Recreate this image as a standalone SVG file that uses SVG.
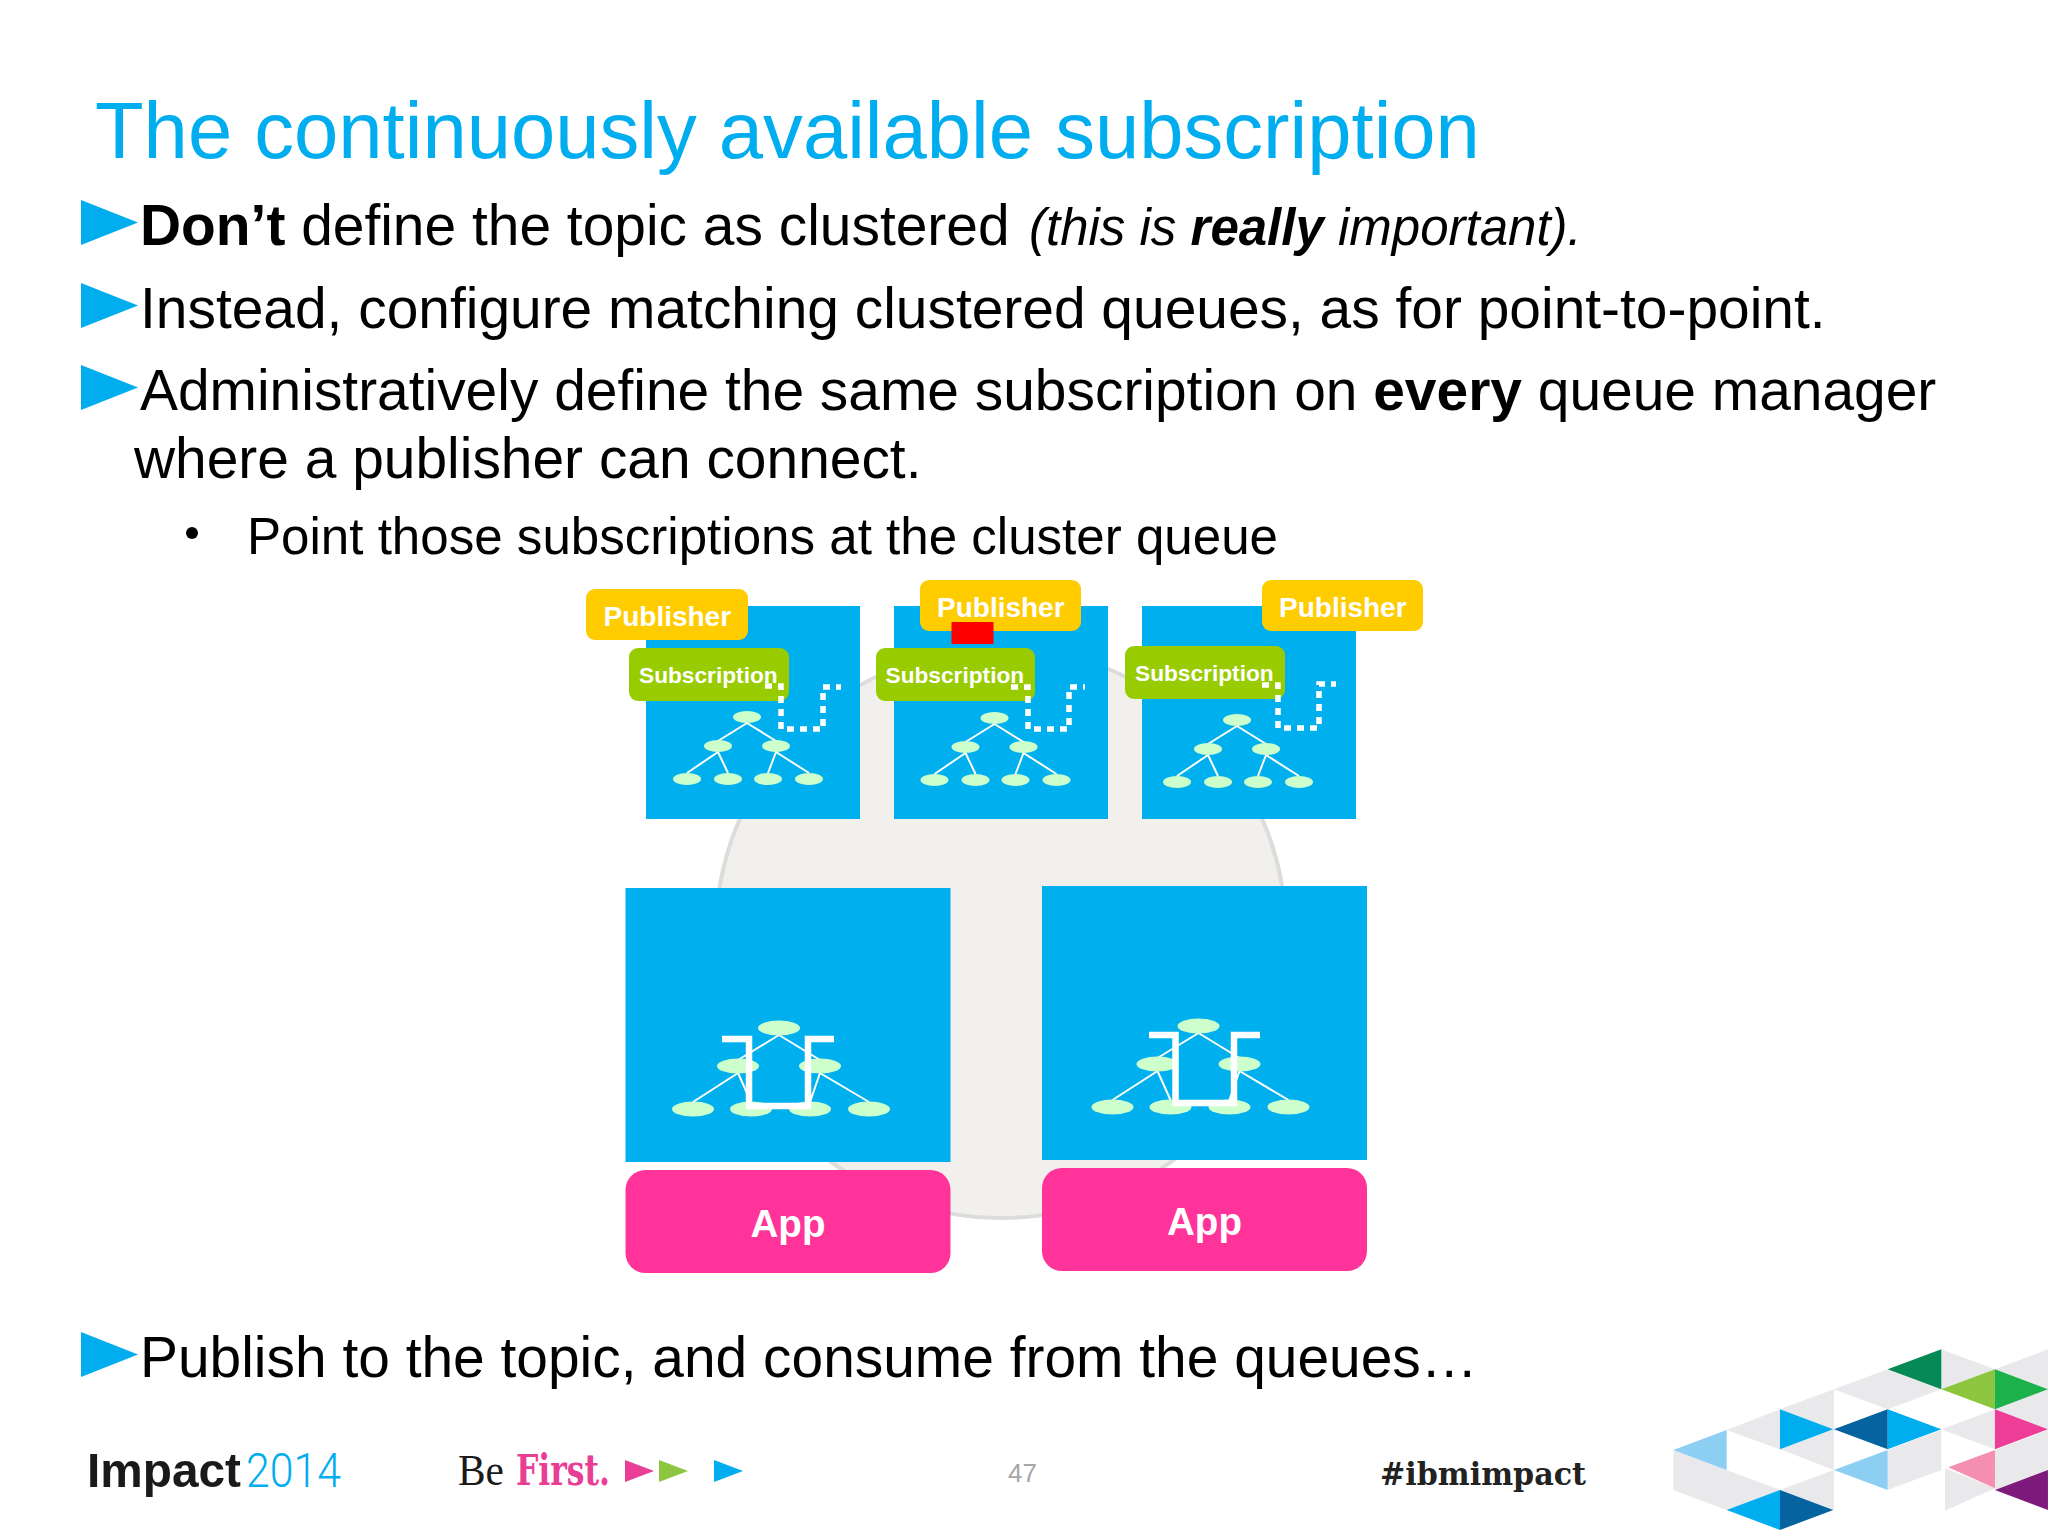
<svg xmlns="http://www.w3.org/2000/svg" width="2048" height="1536" viewBox="0 0 2048 1536">
<style>
text{font-family:"Liberation Sans",Arial,sans-serif}
.title{font-size:79.600px;fill:#00aeef}
.body{font-size:56.900px;fill:#000}
.sub{font-size:51.100px;fill:#000}
.em{font-size:51px;font-style:italic;fill:#000}
.pubt{font-size:28px;font-weight:700;fill:#fff}
.subt{font-size:22.700px;font-weight:700;fill:#fff}
.appt{font-size:38.600px;font-weight:700;fill:#fff;text-anchor:middle}
.qm{fill:#00b0ee}
.pub{fill:#ffcc00}
.sb{fill:#99cc00}
.app{fill:#ff3399}
.leaf{fill:#ccffcc}
.ln{stroke:#fff;stroke-width:2;fill:none}
.dot{stroke:#fff;stroke-width:5.500;fill:none;stroke-dasharray:7 6}
.thick{stroke:#fff;stroke-width:6.500;fill:none}
.bar{fill:#00aeef}
</style>
<defs>
<path id="arrow" d="M0 0L57 22.500L0 45Z"/>
<g id="tree-s">
<path class="ln" d="M0 6L-29 24M0 6L29 24M-29 35L-60 56M-29 35L-19 56M29 35L21 56M29 35L62 56"/>
<ellipse class="leaf" cx="0" cy="0" rx="14" ry="6"/>
<ellipse class="leaf" cx="-29" cy="29" rx="14" ry="6"/>
<ellipse class="leaf" cx="29" cy="29" rx="14" ry="6"/>
<ellipse class="leaf" cx="-60" cy="62" rx="14" ry="6"/>
<ellipse class="leaf" cx="-19" cy="62" rx="14" ry="6"/>
<ellipse class="leaf" cx="21" cy="62" rx="14" ry="6"/>
<ellipse class="leaf" cx="62" cy="62" rx="14" ry="6"/>
</g>
<g id="tree-l">
<path class="ln" d="M0 7L-41 32M0 7L41 32M-41 45L-86 74M-41 45L-28 74M41 45L31 74M41 45L90 74"/>
<ellipse class="leaf" cx="0" cy="0" rx="21" ry="7.500"/>
<ellipse class="leaf" cx="-41" cy="38" rx="21" ry="7.500"/>
<ellipse class="leaf" cx="41" cy="38" rx="21" ry="7.500"/>
<ellipse class="leaf" cx="-86" cy="81" rx="21" ry="7.500"/>
<ellipse class="leaf" cx="-28" cy="81" rx="21" ry="7.500"/>
<ellipse class="leaf" cx="31" cy="81" rx="21" ry="7.500"/>
<ellipse class="leaf" cx="90" cy="81" rx="21" ry="7.500"/>
</g>
</defs>
<rect width="2048" height="1536" fill="#fff"/>
<text class="title" x="95" y="158">The continuously available subscription</text>
<g class="bar">
<use href="#arrow" x="81" y="200"/>
<use href="#arrow" x="81" y="283"/>
<use href="#arrow" x="81" y="365"/>
<use href="#arrow" x="81" y="1332"/>
</g>
<text class="body" x="140" y="245"><tspan font-weight="700">Don’t</tspan> define the topic as clustered</text>
<text class="em" x="1029" y="245">(this is <tspan font-weight="700">really</tspan> important).</text>
<text class="body" x="140" y="328">Instead, configure matching clustered queues, as for point-to-point.</text>
<text class="body" x="140" y="410">Administratively define the same subscription on <tspan font-weight="700">every</tspan> queue manager</text>
<text class="body" x="134" y="478">where a publisher can connect.</text>
<circle cx="192" cy="533" r="6" fill="#000"/>
<text class="sub" x="247" y="554">Point those subscriptions at the cluster queue</text>
<text class="body" x="140" y="1377">Publish to the topic, and consume from the queues…</text>

<circle id="cluster" cx="1001" cy="933" r="285" fill="#f2f0ec" stroke="#dcdcdc" stroke-width="4"/>

<g id="qm1"><rect class="qm" x="646" y="606" width="214" height="213"/><use href="#tree-s" x="747" y="717"/></g>
<g id="qm2"><rect class="qm" x="894" y="606" width="214" height="213"/><use href="#tree-s" x="994.500" y="718"/></g>
<g id="qm3"><rect class="qm" x="1142" y="606" width="214" height="213"/><use href="#tree-s" x="1237" y="720"/></g>
<g id="publisher1"><rect class="pub" x="586" y="589" width="162" height="51" rx="9"/><text class="pubt" x="603.500" y="626">Publisher</text></g>
<g id="publisher2"><rect class="pub" x="920" y="580" width="161" height="51" rx="9"/><text class="pubt" x="937" y="617">Publisher</text></g>
<g id="publisher3"><rect class="pub" x="1262" y="580" width="161" height="51" rx="9"/><text class="pubt" x="1279" y="617">Publisher</text></g>
<rect id="message" x="951.500" y="622" width="42" height="22" fill="#ff0000"/>
<g id="subscription1"><rect class="sb" x="629" y="648" width="160" height="53" rx="9"/><text class="subt" x="639" y="683">Subscription</text></g>
<g id="subscription2"><rect class="sb" x="876" y="648" width="159" height="53" rx="9"/><text class="subt" x="885.500" y="683">Subscription</text></g>
<g id="subscription3"><rect class="sb" x="1125" y="646" width="160" height="53" rx="9"/><text class="subt" x="1135" y="681">Subscription</text></g>

<g id="qm4"><rect class="qm" x="625.500" y="888" width="325" height="274"/><use href="#tree-l" x="779" y="1028"/></g>
<g id="qm5"><rect class="qm" x="1042" y="886" width="325" height="274"/><use href="#tree-l" x="1198.500" y="1026"/></g>
<g id="app1"><rect class="app" x="625.500" y="1170" width="325" height="103" rx="20"/><text class="appt" x="788" y="1237">App</text></g>
<g id="app2"><rect class="app" x="1042" y="1168" width="325" height="103" rx="20"/><text class="appt" x="1204.500" y="1235">App</text></g>

<g id="connectors">
<path class="dot" d="M765 686H781V729H823V687H841"/>
<path class="dot" d="M1011 687H1028V729H1069V687H1085"/>
<path class="dot" d="M1262 685H1278V728H1319V684H1336"/>
<path class="thick" d="M722 1039H749V1106H808V1039H834"/>
<path class="thick" d="M1149 1035H1175.500V1103H1234V1035H1260"/>
</g>

<g id="footer">
<text x="87" y="1487" font-size="49" font-weight="700" fill="#1a1a1a" textLength="154" lengthAdjust="spacingAndGlyphs">Impact</text>
<text x="246" y="1487" font-size="49" fill="#00aeef" font-weight="300" style="font-family:Roboto,sans-serif" textLength="95" lengthAdjust="spacingAndGlyphs">2014</text>
<text x="458" y="1485" font-size="44" fill="#1a1a1a" style="font-family:'Liberation Serif',serif" textLength="46" lengthAdjust="spacingAndGlyphs">Be</text>
<text x="516" y="1485" font-size="42" font-weight="700" fill="#e83e96" style="font-family:'DejaVu Serif',serif" textLength="94" lengthAdjust="spacingAndGlyphs">First.</text>
<path fill="#e83e96" d="M625 1460L654 1471L625 1482Z"/>
<path fill="#8cc63f" d="M659 1460L688 1471L659 1482Z"/>
<path fill="#00aeef" d="M714 1460L743 1471L714 1482Z"/>
<text x="1008" y="1482" font-size="26" fill="#a6a6a6">47</text>
<text x="1380" y="1485" font-size="32" font-weight="700" fill="#222" style="font-family:'DejaVu Serif',serif" textLength="206" lengthAdjust="spacingAndGlyphs">#ibmimpact</text>
<g transform="translate(1640 1320) scale(.3333)">
<path fill="#e9e9eb" d="M904 88L1065 148L904 208ZM1065 148L1224 88V208ZM582 208L743 148L904 208L743 268ZM420 268L582 208V328ZM260 330L420 268V388ZM420 388L582 328V450ZM904 328L1065 268V388ZM1065 268L1224 208V328ZM743 390L904 330V450L743 510ZM1065 390L1224 330V450L1065 510ZM100 390L260 450L420 510L260 570L100 510ZM420 510L582 450V570ZM915 445L1065 505L915 572Z"/>
<path fill="#058a55" d="M743 148L904 88V208Z"/>
<path fill="#8cc63f" d="M904 208L1065 148V268Z"/>
<path fill="#1db14b" d="M1065 148L1224 208L1065 268Z"/>
<path fill="#00aeef" d="M420 268L580 328L420 388ZM743 268L904 328L743 388ZM260 570L420 510V630Z"/>
<path fill="#0563a0" d="M582 328L743 268V388ZM420 510L580 570L420 630Z"/>
<path fill="#8ccff2" d="M100 390L260 330V450ZM582 450L743 390V510Z"/>
<path fill="#ee3d96" d="M1065 268L1224 328L1065 388Z"/>
<path fill="#f48fb1" d="M925 442L1065 390V505Z"/>
<path fill="#7e1a7c" d="M1065 510L1224 450V570Z"/>
</g>
</g>
</svg>
